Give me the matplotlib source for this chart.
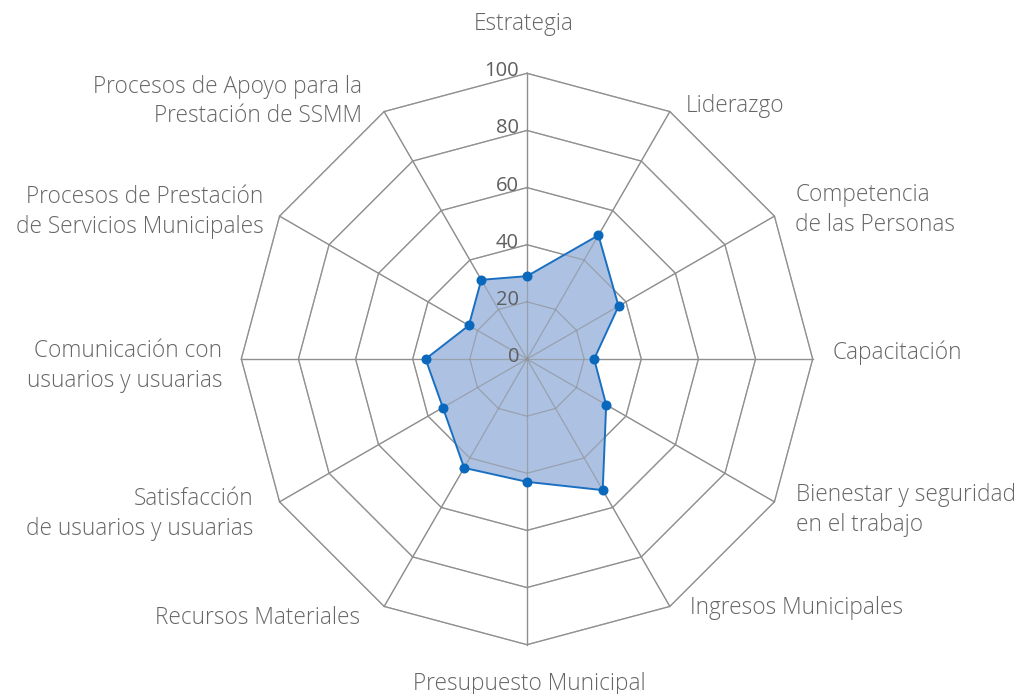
import numpy as np
import matplotlib
matplotlib.use("Agg")
import matplotlib.pyplot as plt

# categories, clockwise from the top
categories = [
    "Estrategia",
    "Liderazgo",
    "Competencia\nde las Personas",
    "Capacitación",
    "Bienestar y seguridad\nen el trabajo",
    "Ingresos Municipales",
    "Presupuesto Municipal",
    "Recursos Materiales",
    "Satisfacción\nde usuarios y usuarias",
    "Comunicación con\nusuarios y usuarias",
    "Procesos de Prestación\nde Servicios Municipales",
    "Procesos de Apoyo para la\nPrestación de SSMM",
]
scores = [29, 50, 37, 23.5, 32, 53, 43, 44, 34, 35.5, 23.5, 32]
ring_ticks = [0, 20, 40, 60, 80, 100]

# label placement (offset in pixels from the 100-vertex, alignment)
label_style = [
    ((-3, 49), "center"),
    ((16, 6), "left"),
    ((21, 6), "left"),
    ((20, 6), "left"),
    ((22, -8), "left"),
    ((20, -2), "left"),
    ((2, -39), "center"),
    ((-24, -12), "right"),
    ((-26, -12), "right"),
    ((-19, -7), "right"),
    ((-16, 4), "right"),
    ((-22, 10), "right"),
]

W, H, DPI = 1022, 694, 100
cx, cy = 527, 359          # centre of the web in pixels
px_per_unit = 2.857        # pixels per score unit

plt.rcParams['font.family'] = ['Open Sans', 'DejaVu Sans']
fig = plt.figure(figsize=(W / DPI, H / DPI), dpi=DPI)
ax = fig.add_axes([0, 0, 1, 1])
ax.set_xlim(-cx / px_per_unit, (W - cx) / px_per_unit)
ax.set_ylim(-(H - cy) / px_per_unit, cy / px_per_unit)
ax.axis("off")

n = len(categories)
ang = np.pi / 2 - np.arange(n) * 2 * np.pi / n
ux, uy = np.cos(ang), np.sin(ang)

grid_col = "#8f8f8f"


def draw_grid(alpha, z):
    for r in ring_ticks[1:]:
        ax.plot(np.append(ux, ux[0]) * r, np.append(uy, uy[0]) * r,
                color=grid_col, lw=0.9, alpha=alpha, zorder=z)
    for i in range(n):
        ax.plot([0, ux[i] * 100], [0, uy[i] * 100], color=grid_col,
                lw=0.9, alpha=alpha, zorder=z)


draw_grid(1.0, 1)
vals = np.array(scores)
px_, py_ = ux * vals, uy * vals
ax.fill(px_, py_, color="#a9bfe2", alpha=0.95, zorder=2, lw=0)
# grid is visible through the fill in the reference
draw_grid(0.6, 3)
ax.plot(np.append(px_, px_[0]), np.append(py_, py_[0]), color="#1a6fc0", lw=1.4, zorder=4)
ax.plot(px_, py_, "o", color="#0a68bd", ms=6.2, zorder=5)

for r in ring_ticks:
    ax.annotate(str(r), (0, r), xytext=(-8, 2), textcoords="offset pixels",
                ha="right", va="center", fontsize=14.5, color="#5e5e5e", zorder=6)

for i, lab in enumerate(categories):
    (dx, dy), ha = label_style[i]
    ax.annotate(lab, (ux[i] * 100, uy[i] * 100), xytext=(dx, dy),
                textcoords="offset pixels", ha=ha, va="center",
                fontsize=16.3, color="#666666", linespacing=1.32,
                multialignment=ha, fontweight="light")

fig.savefig("out.png", dpi=DPI, facecolor="white")
